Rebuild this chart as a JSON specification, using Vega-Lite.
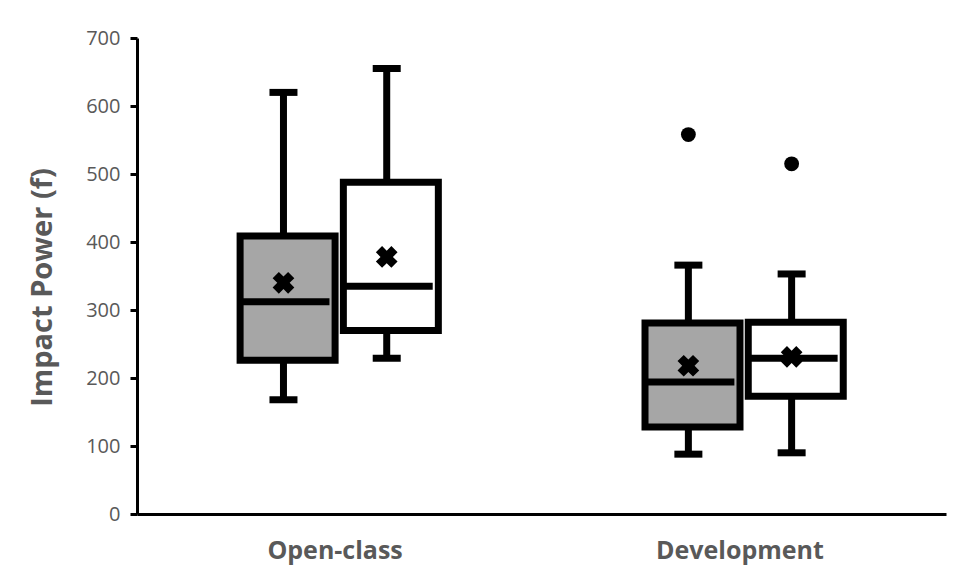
{
  "$schema": "https://vega.github.io/schema/vega-lite/v6.json",
  "width": 809,
  "height": 476,
  "autosize": {"type": "none"},
  "padding": {"left": 137, "top": 38, "right": 9, "bottom": 65},
  "background": "white",
  "config": {
    "view": {"stroke": null},
    "font": "Open Sans"
  },
  "datasets": {
    "boxes": [
      {"group": "Open-class", "series": "Series 1", "lower": 168, "q1": 226, "median": 312, "q3": 409, "upper": 620, "mean": 340},
      {"group": "Open-class", "series": "Series 2", "lower": 229, "q1": 270, "median": 335, "q3": 488, "upper": 655, "mean": 378},
      {"group": "Development", "series": "Series 1", "lower": 88, "q1": 128, "median": 194, "q3": 281, "upper": 366, "mean": 218},
      {"group": "Development", "series": "Series 2", "lower": 90, "q1": 173, "median": 229, "q3": 282, "upper": 353, "mean": 231}
    ],
    "outliers": [
      {"group": "Development", "series": "Series 1", "value": 558},
      {"group": "Development", "series": "Series 2", "value": 515}
    ]
  },
  "encoding": {
    "x": {
      "field": "group",
      "type": "nominal",
      "sort": ["Open-class", "Development"],
      "scale": {"paddingInner": 0.49, "paddingOuter": 0.244, "align": 0.48},
      "axis": {
        "title": null,
        "labelAngle": 0,
        "ticks": false,
        "labelFont": "Open Sans",
        "labelFontWeight": "bold",
        "labelFontSize": 25,
        "labelColor": "#595959",
        "labelPadding": 24,
        "domainColor": "black",
        "domainWidth": 3
      }
    },
    "xOffset": {
      "field": "series",
      "type": "nominal",
      "sort": ["Series 1", "Series 2"],
      "scale": {"paddingInner": 0, "paddingOuter": 0}
    }
  },
  "layer": [
    {
      "data": {"name": "boxes"},
      "mark": {"type": "rule", "color": "black", "strokeWidth": 7},
      "encoding": {
        "y": {
          "field": "lower",
          "type": "quantitative",
          "scale": {"domain": [0, 700], "nice": false},
          "axis": {
            "title": "Impact Power (f)",
            "titleFont": "Open Sans",
            "titleFontWeight": "bold",
            "titleFontSize": 29,
            "titleColor": "#595959",
            "titlePadding": 28,
            "titleY": 249,
            "values": [0, 100, 200, 300, 400, 500, 600, 700],
            "grid": false,
            "labelFont": "Open Sans",
            "labelFontSize": 20,
            "labelColor": "#595959",
            "labelPadding": 10,
            "tickColor": "black",
            "tickWidth": 3,
            "tickSize": 7,
            "domainColor": "black",
            "domainWidth": 3
          }
        },
        "y2": {"field": "upper"}
      }
    },
    {
      "data": {"name": "boxes"},
      "mark": {"type": "tick", "color": "black", "size": 28, "thickness": 7, "opacity": 1},
      "encoding": {"y": {"field": "lower", "type": "quantitative"}}
    },
    {
      "data": {"name": "boxes"},
      "mark": {"type": "tick", "color": "black", "size": 28, "thickness": 7, "opacity": 1},
      "encoding": {"y": {"field": "upper", "type": "quantitative"}}
    },
    {
      "data": {"name": "boxes"},
      "mark": {"type": "bar", "stroke": "black", "strokeWidth": 7, "strokeJoin": "miter", "width": {"band": 0.92}, "opacity": 1},
      "encoding": {
        "y": {"field": "q1", "type": "quantitative"},
        "y2": {"field": "q3"},
        "fill": {
          "field": "series",
          "type": "nominal",
          "scale": {"domain": ["Series 1", "Series 2"], "range": ["#a6a6a6", "#ffffff"]},
          "legend": null
        }
      }
    },
    {
      "data": {"name": "boxes"},
      "mark": {"type": "tick", "color": "black", "size": 92, "thickness": 7, "opacity": 1},
      "encoding": {"y": {"field": "median", "type": "quantitative"}}
    },
    {
      "data": {"name": "boxes"},
      "mark": {"type": "point", "shape": "cross", "angle": 45, "filled": true, "color": "black", "size": 480, "opacity": 1},
      "encoding": {"y": {"field": "mean", "type": "quantitative"}}
    },
    {
      "data": {"name": "outliers"},
      "mark": {"type": "point", "shape": "circle", "filled": true, "color": "black", "size": 220, "opacity": 1},
      "encoding": {"y": {"field": "value", "type": "quantitative"}}
    }
  ]
}
